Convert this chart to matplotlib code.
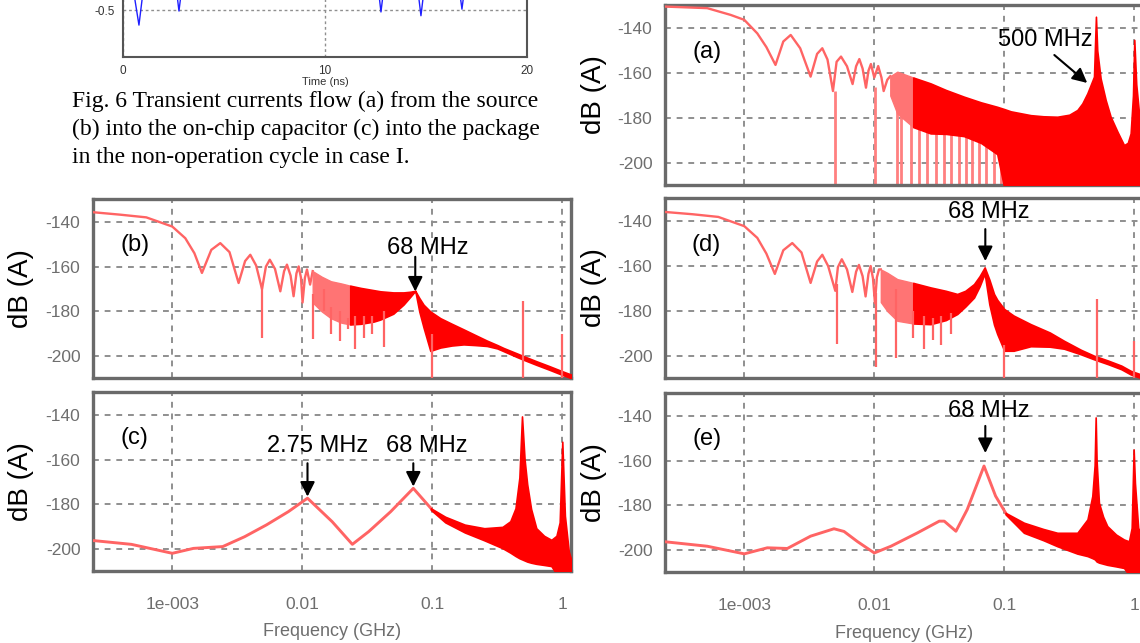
import numpy as np
import matplotlib.pyplot as plt
from matplotlib.ticker import FixedLocator, FixedFormatter, NullLocator

plt.rcParams['font.family'] = ['Liberation Sans', 'DejaVu Sans']

# ---- transient current, only its bottom strip is visible (time in ns, current) ----
tr_t = [0.0, 0.45, 0.79, 1.05, 2.6, 2.77, 2.95, 12.6, 12.77, 12.95,
        14.55, 14.75, 14.95, 16.6, 16.78, 16.95, 20.0]
tr_i = [-0.2, -0.2, -0.66, -0.2, -0.2, -0.51, -0.2, -0.2, -0.52, -0.2,
        -0.2, -0.56, -0.2, -0.2, -0.49, -0.2, -0.2]

caption = ["Fig. 6 Transient currents flow (a) from the source",
           "(b) into the on-chip capacitor (c) into the package",
           "in the non-operation cycle in case I."]

# ---- spectra: frequency as log10(GHz), level in dB(A) ----
# (a) source current
a_line_x = [-3.61, -3.285, -3.105, -3.0, -2.90, -2.83, -2.76, -2.70, -2.643, -2.57, -2.49,
            -2.44, -2.40, -2.36, -2.318, -2.29, -2.256, -2.21, -2.167, -2.14, -2.115, -2.09,
            -2.064, -2.045, -2.026, -2.0, -1.97, -1.945, -1.928, -1.90, -1.877]
a_line_y = [-130.5, -131.2, -134.2, -136.4, -142.4, -148.5, -156.4, -146.0, -143.1, -149.0, -161.6,
            -151.5, -149.0, -154.0, -168.0, -155.0, -152.7, -157.0, -164.9, -157.0, -153.8, -158.0,
            -166.5, -159.0, -156.0, -162.0, -156.9, -162.0, -168.0, -163.0, -161.4]
a_band_x = [-1.877, -1.823, -1.70, -1.567, -1.45, -1.31, -1.18, -1.054, -1.0, -0.95, -0.797,
            -0.70, -0.592, -0.50, -0.438, -0.40, -0.361, -0.31, -0.295, -0.285, -0.259, -0.22,
            -0.182, -0.13, -0.079, -0.05, -0.028, -0.01, 0.0, 0.015, 0.04, 0.07]
a_band_hi = [-161.4, -159.4, -162.0, -164.6, -167.5, -170.5, -173.0, -175.0, -176.0, -177.0, -178.7,
             -179.2, -179.4, -178.5, -176.4, -173.5, -169.0, -161.6, -135.0, -150.0, -162.4, -172.0,
             -179.4, -186.0, -192.0, -191.0, -186.8, -170.0, -145.3, -165.0, -180.0, -185.0]
a_band_lo = [-170.0, -178.0, -184.0, -186.8, -187.0, -188.0, -191.0, -196.0, -211.0, -211.0, -211.0,
             -211.0, -211.0, -211.0, -211.0, -211.0, -211.0, -211.0, -211.0, -211.0, -211.0, -211.0,
             -211.0, -211.0, -211.0, -211.0, -211.0, -211.0, -211.0, -211.0, -211.0, -211.0]
a_spk_x = [-2.30, -1.997, -1.828, -1.797, -1.72, -1.656, -1.592, -1.528, -1.464, -1.413,
           -1.349, -1.297, -1.246, -1.195, -1.144, -1.079, -1.028, -0.887]
a_spk_top = [-168, -166, -168, -175, -180, -183, -185, -186, -187, -187,
             -187, -188, -189, -190, -191, -193, -195, -200]
a_spk_bot = [-211] * 18

# (b) on-chip capacitor current
b_line_x = [-3.61, -3.40, -3.20, -3.0, -2.90, -2.83, -2.772, -2.70, -2.631, -2.56, -2.49, -2.44,
            -2.40, -2.355, -2.31, -2.28, -2.25, -2.21, -2.169, -2.14, -2.118, -2.09, -2.067,
            -2.045, -2.028, -2.01, -1.998, -1.98, -1.964, -1.94, -1.92]
b_line_y = [-135.7, -136.8, -138.0, -142.1, -147.3, -154.0, -162.8, -152.5, -149.5, -153.5, -167.3, -157.5,
            -154.7, -159.5, -170.0, -160.0, -156.9, -161.0, -171.0, -162.0, -159.1, -164.0, -173.2,
            -163.0, -159.9, -165.0, -176.0, -165.0, -161.3, -168.0, -162.0]
b_band_x = [-1.92, -1.85, -1.78, -1.70, -1.631, -1.55, -1.45, -1.40, -1.30, -1.221, -1.17, -1.131,
            -1.10, -1.067, -1.015, -0.938, -0.85, -0.759, -0.67, -0.58, -0.50, -0.452,
            -0.35, -0.30, -0.20, -0.10, 0.0, 0.07]
b_band_hi = [-162.0, -164.5, -166.5, -167.5, -168.5, -169.5, -170.5, -171.0, -171.5, -171.5, -171.2, -170.8,
             -174.0, -177.0, -180.0, -183.0, -185.5, -188.0, -190.5, -193.0, -195.0, -196.3,
             -198.7, -199.9, -202.2, -204.4, -206.7, -208.2]
b_band_lo = [-176.0, -180.0, -183.0, -185.0, -185.8, -185.5, -184.5, -183.6, -181.0, -176.9, -173.5, -170.8,
             -180.0, -187.2, -197.6, -196.1, -195.2, -194.7, -195.0, -195.4, -196.5, -197.7,
             -200.3, -201.5, -203.8, -206.0, -208.3, -209.8]
b_spk_x = [-2.31, -1.921, -1.836, -1.78, -1.708, -1.65, -1.592, -1.528, -1.46, -1.374, -1.0, -0.30, 0.0]
b_spk_top = [-168, -172, -170, -178, -180, -183, -182, -182, -182, -180, -190, -175.4, -190.2]
b_spk_bot = [-191.7, -192.4, -180, -190, -193.2, -188, -196.9, -192, -190, -196, -211, -211, -211]

# (c) package current
c_line_x = [-3.61, -3.315, -3.0, -2.837, -2.612, -2.444, -2.275, -2.107, -1.96, -1.77, -1.615,
            -1.489, -1.32, -1.146, -1.011]
c_line_y = [-196.1, -197.8, -201.8, -199.6, -198.8, -194.4, -189.1, -183.2, -177.2, -187.7, -197.8,
            -192.1, -183.2, -172.8, -181.7]
c_band_x = [-1.011, -0.90, -0.75, -0.60, -0.46, -0.40, -0.36, -0.33, -0.31, -0.29, -0.27, -0.24,
            -0.20, -0.14, -0.084, -0.045, -0.02, 0.0, 0.02, 0.05, 0.07]
c_band_hi = [-181.7, -185.5, -189.0, -190.6, -190.0, -187.5, -181.7, -168.0, -140.7, -160.0, -171.0, -182.0,
             -190.6, -194.0, -195.8, -194.0, -188.0, -152.0, -185.0, -201.0, -205.0]
c_band_lo = [-182.4, -188.0, -192.5, -196.0, -199.5, -201.5, -203.0, -204.0, -204.5, -205.0, -205.5, -206.0,
             -206.5, -207.0, -207.5, -211.0, -211.0, -211.0, -211.0, -211.0, -211.0]

# (d) on-chip capacitor current, second case
d_line_x = [-3.61, -3.40, -3.20, -3.0, -2.90, -2.83, -2.765, -2.70, -2.631, -2.56, -2.49, -2.44,
            -2.40, -2.355, -2.30, -2.28, -2.25, -2.21, -2.169, -2.14, -2.118, -2.09, -2.067,
            -2.045, -2.028, -2.01, -1.995, -1.98, -1.964, -1.95]
d_line_y = [-136.0, -137.0, -138.2, -142.3, -147.5, -154.5, -163.5, -153.0, -149.8, -154.0, -167.5, -158.0,
            -155.0, -160.0, -171.0, -160.5, -157.0, -161.5, -171.5, -162.5, -159.5, -164.5, -173.5,
            -163.5, -160.0, -165.5, -176.5, -165.0, -161.5, -161.5]
d_band_x = [-1.95, -1.90, -1.823, -1.70, -1.567, -1.45, -1.362, -1.30, -1.233, -1.19, -1.151, -1.115,
            -1.079, -1.054, -1.0, -0.928, -0.797, -0.65, -0.54, -0.41, -0.31, -0.20, -0.10, -0.028, 0.07]
d_band_hi = [-161.5, -163.0, -165.8, -167.5, -169.5, -171.0, -172.4, -171.0, -168.0, -164.5, -160.6, -166.0,
             -172.4, -175.0, -179.1, -182.0, -185.8, -189.5, -193.2, -197.2, -199.8, -202.0, -204.2, -206.5, -208.5]
d_band_lo = [-176.0, -180.0, -184.3, -185.5, -185.8, -184.0, -181.3, -178.0, -174.0, -169.0, -163.3, -177.0,
             -186.0, -190.2, -197.6, -197.6, -195.6, -195.8, -196.7, -199.2, -201.4, -203.6, -205.8, -208.1, -210.1]
d_spk_x = [-2.29, -1.99, -1.83, -1.70, -1.62, -1.55, -1.49, -1.41, -1.0, -0.29, 0.0]
d_spk_top = [-168, -172, -170, -180, -182, -183, -182, -181, -195, -174.7, -193.2]
d_spk_bot = [-194.6, -205, -201, -192, -197, -193, -195, -190, -211, -211, -211]

# (e) package current, second case
e_line_x = [-3.61, -3.285, -3.0, -2.823, -2.669, -2.49, -2.31, -2.233, -2.13, -2.0, -1.872,
            -1.667, -1.5, -1.462, -1.372, -1.285, -1.156, -1.067, -0.99]
e_line_y = [-196.2, -198.2, -201.6, -198.9, -199.2, -193.7, -190.4, -191.6, -196.1, -201.2, -198.2,
            -192.2, -187.0, -187.0, -191.5, -181.8, -162.4, -175.8, -183.3]
e_band_x = [-0.99, -0.849, -0.70, -0.592, -0.438, -0.36, -0.323, -0.305, -0.297, -0.29, -0.272, -0.24,
            -0.208, -0.14, -0.079, -0.041, -0.02, -0.005, 0.005, 0.03, 0.07]
e_band_hi = [-183.3, -187.7, -190.5, -192.2, -192.2, -186.2, -175.8, -162.0, -140.7, -160.0, -178.8, -185.0,
             -189.2, -193.0, -195.2, -196.0, -190.0, -155.0, -170.0, -190.0, -195.0]
e_band_lo = [-184.0, -192.2, -195.5, -198.2, -201.5, -202.6, -203.5, -204.0, -204.5, -205.0, -205.5, -206.0,
             -206.5, -207.2, -207.9, -211.0, -211.0, -211.0, -211.0, -211.0, -211.0]

freq_ticks = [1e-3, 1e-2, 1e-1, 1.0]
freq_labels = ['1e-003', '0.01', '0.1', '1']
db_ticks = [-200, -180, -160, -140]
db_labels = ['-200', '-180', '-160', '-140']

LINE_RED = '#ff6464'
SOFT_RED = '#ff7474'
FILL_RED = '#ff0000'
GRID = '#8f8f8f'
TICK_GRAY = '#6e6e6e'

W, H = 1140, 643
fig = plt.figure(figsize=(W / 100, H / 100), dpi=100)


def px_axes(x0, y0, x1, y1):
    return fig.add_axes([x0 / W, 1 - y1 / H, (x1 - x0) / W, (y1 - y0) / H])


def spectrum(ax, tag, line_x, line_y, band_x, band_hi, band_lo,
             spk_x=None, spk_top=None, spk_bot=None, xlabels=False, lw=1.7, soft_until=None):
    ax.set_xscale('log')
    ax.set_xlim(10 ** -3.61, 10 ** 0.067)
    ax.set_ylim(-209.7, -129.8)
    ax.plot(10 ** np.array(line_x), line_y, color=LINE_RED, lw=lw, zorder=3)
    bx = np.array(band_x)
    if soft_until is None:
        ax.fill_between(10 ** bx, band_lo, band_hi, facecolor=FILL_RED,
                        edgecolor=FILL_RED, lw=1.2, zorder=3)
    else:
        # the first stretch of the dense ripple is paler in the original
        # (soft_until is one of the band_x values, so both parts share that point)
        ax.fill_between(10 ** bx, band_lo, band_hi, where=bx <= soft_until,
                        facecolor=SOFT_RED, edgecolor=SOFT_RED, lw=1.0, zorder=3)
        ax.fill_between(10 ** bx, band_lo, band_hi, where=bx >= soft_until,
                        facecolor=FILL_RED, edgecolor=FILL_RED, lw=1.2, zorder=3)
    if spk_x is not None:
        ax.vlines(10 ** np.array(spk_x), spk_bot, spk_top, color=LINE_RED, lw=1.6, zorder=3)
    ax.xaxis.set_major_locator(FixedLocator(freq_ticks))
    ax.xaxis.set_minor_locator(NullLocator())
    ax.yaxis.set_major_locator(FixedLocator(db_ticks))
    ax.yaxis.set_major_formatter(FixedFormatter(db_labels))
    if xlabels:
        ax.xaxis.set_major_formatter(FixedFormatter(freq_labels))
        ax.set_xlabel('Frequency (GHz)', fontsize=13, color=TICK_GRAY, labelpad=8)
    else:
        ax.xaxis.set_major_formatter(FixedFormatter(['', '', '', '']))
    ax.tick_params(length=0, labelsize=12.5, labelcolor=TICK_GRAY, pad=9)
    ax.tick_params(axis='x', pad=19)
    ax.grid(True, color=GRID, lw=1.4, linestyle=(0, (3, 3)), zorder=1)
    ax.set_axisbelow(True)
    for s in ax.spines.values():
        s.set_color('#6a6a6a')
        s.set_linewidth(2.4)
    ax.set_ylabel('dB (A)', fontsize=20, color='black')
    ax.text(10 ** -3.29, -150.5, tag, fontsize=17, ha='center', va='center')


def arrow(ax, x, y_tail, y_tip, x_tail=None):
    xt = x if x_tail is None else x_tail
    ax.annotate('', xy=(10 ** x, y_tip), xytext=(10 ** xt, y_tail),
                arrowprops=dict(arrowstyle='-|>', color='black', lw=1.5,
                                mutation_scale=22, shrinkA=0, shrinkB=0), zorder=5)


# top-left: bottom of the transient plot
ax0 = px_axes(123, -140, 527, 57)
ax0.plot(tr_t, tr_i, color='#1f1fff', lw=1.0)
ax0.set_xlim(0, 20)
ax0.set_ylim(-1.0, 1.1)
ax0.set_xticks([0, 10, 20])
ax0.set_yticks([-0.5])
ax0.set_yticklabels(['-0.5'])
ax0.tick_params(length=0, labelsize=8.5, labelcolor='#333333', pad=6)
ax0.grid(True, color=GRID, lw=1.0, linestyle=(0, (2, 2)))
for s in ax0.spines.values():
    s.set_color('#555555')
    s.set_linewidth(1.5)
ax0.set_xlabel('Time (ns)', fontsize=8, color='#333333', labelpad=0)

for i, line in enumerate(caption):
    fig.text(72 / W, 1 - (101 + 28.5 * i) / H, line, fontsize=17,
             family=['Liberation Serif', 'DejaVu Serif'], va='center', ha='left')

ax_a = px_axes(665, 5, 1143, 185)
ax_a.vlines(10 ** np.array(a_spk_x), a_spk_bot, a_spk_top, color='#ff8080', lw=2.0, zorder=2)
spectrum(ax_a, '(a)', a_line_x, a_line_y, a_band_x, a_band_hi, a_band_lo, soft_until=-1.70)
arrow(ax_a, -0.362, -152.0, -164.4, x_tail=-0.615)
ax_a.text(10 ** -0.685, -145.3, '500 MHz', fontsize=17, ha='center', va='center', zorder=6)

ax_b = px_axes(93, 199, 571, 378)
spectrum(ax_b, '(b)', b_line_x, b_line_y, b_band_x, b_band_hi, b_band_lo,
         b_spk_x, b_spk_top, b_spk_bot, soft_until=-1.631)
arrow(ax_b, -1.131, -155.6, -171.1)
ax_b.text(10 ** -1.038, -151.6, '68 MHz', fontsize=17, ha='center', va='center', zorder=6)

ax_c = px_axes(93, 392, 571, 571)
spectrum(ax_c, '(c)', c_line_x, c_line_y, c_band_x, c_band_hi, c_band_lo,
         xlabels=True, lw=2.1)
arrow(ax_c, -1.96, -161.6, -176.5)
arrow(ax_c, -1.146, -161.6, -172.0)
ax_c.text(10 ** -1.882, -154.1, '2.75 MHz', fontsize=17, ha='center', va='center', zorder=6)
ax_c.text(10 ** -1.045, -154.1, '68 MHz', fontsize=17, ha='center', va='center', zorder=6)

ax_d = px_axes(665, 198, 1143, 378)
spectrum(ax_d, '(d)', d_line_x, d_line_y, d_band_x, d_band_hi, d_band_lo,
         d_spk_x, d_spk_top, d_spk_bot, soft_until=-1.70)
arrow(ax_d, -1.146, -143.6, -157.8)
ax_d.text(10 ** -1.123, -136.0, '68 MHz', fontsize=17, ha='center', va='center', zorder=6)

ax_e = px_axes(665, 393, 1143, 572)
spectrum(ax_e, '(e)', e_line_x, e_line_y, e_band_x, e_band_hi, e_band_lo,
         xlabels=True, lw=2.1)
arrow(ax_e, -1.146, -144.5, -156.6)
ax_e.text(10 ** -1.123, -137.8, '68 MHz', fontsize=17, ha='center', va='center', zorder=6)

# the y label anchor is the right edge of the rotated text
for ax in (ax_a, ax_d, ax_e):
    ax.yaxis.set_label_coords(-(665 - 607) / 478, 0.5)
for ax in (ax_b, ax_c):
    ax.yaxis.set_label_coords(-(93 - 34) / 478, 0.5)

fig.savefig('out.png', dpi=100)
